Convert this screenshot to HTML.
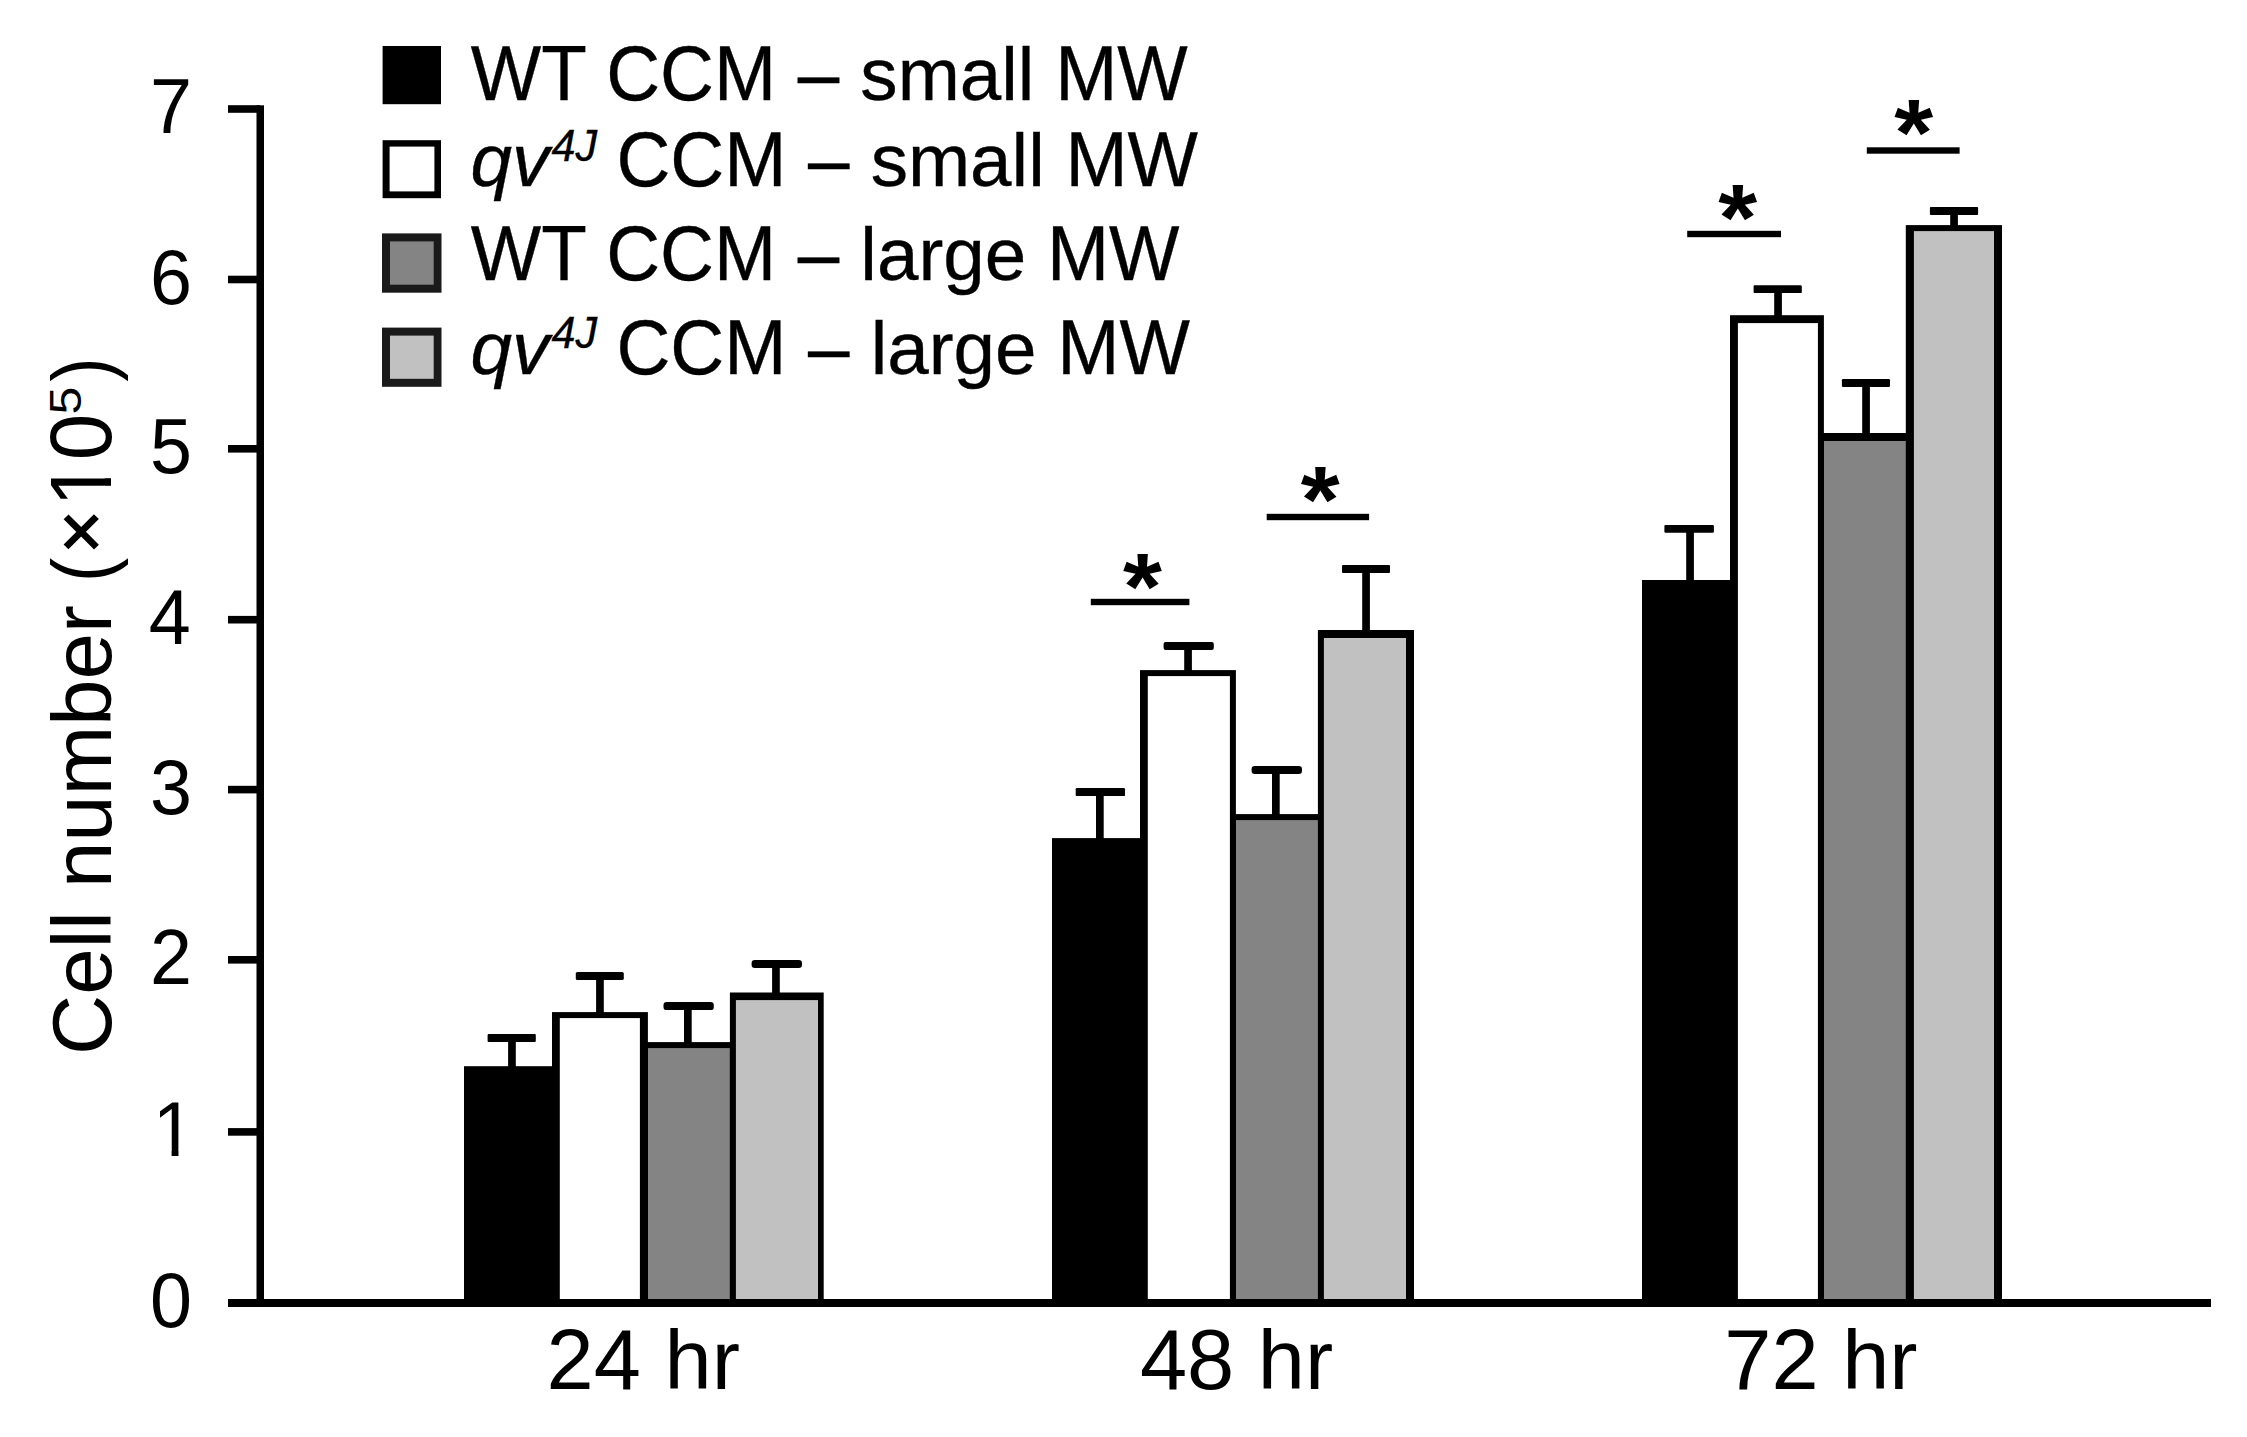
<!DOCTYPE html>
<html lang="en">
<head>
<meta charset="utf-8">
<title>Cell number bar chart</title>
<style>
html,body{margin:0;padding:0;background:#fff;}
body{width:2247px;height:1437px;overflow:hidden;}
svg{display:block;}
text{white-space:pre;}
</style>
</head>
<body>
<svg width="2247" height="1437" viewBox="0 0 2247 1437" shape-rendering="geometricPrecision">
<rect x="0" y="0" width="2247" height="1437" fill="#fff"/>
<rect x="464.0" y="1066.2" width="92.0" height="239.8" fill="#000"/>
<rect x="640.0" y="1042.1" width="96.0" height="263.9" fill="#000"/>
<rect x="647.9" y="1048.1" width="82.0" height="257.9" fill="#848484"/>
<rect x="552.0" y="1012.1" width="95.9" height="293.9" fill="#000"/>
<rect x="559.8" y="1018.1" width="80.1" height="287.9" fill="#fff"/>
<rect x="729.9" y="992.5" width="93.8" height="313.5" fill="#000"/>
<rect x="735.9" y="1000.1" width="82.1" height="305.9" fill="#c1c1c1"/>
<rect x="508.1" y="1035.1" width="7.7" height="32.1" fill="#000"/>
<rect x="487.6" y="1034.1" width="48.2" height="7.8" fill="#000" rx="1.0" ry="1.0"/>
<rect x="596.1" y="973.0" width="7.7" height="40.1" fill="#000"/>
<rect x="575.8" y="972.0" width="48.0" height="8.0" fill="#000" rx="1.6" ry="1.6"/>
<rect x="684.0" y="1003.1" width="7.7" height="40.0" fill="#000"/>
<rect x="663.5" y="1002.1" width="50.3" height="8.0" fill="#000" rx="3.2" ry="3.2"/>
<rect x="772.1" y="961.0" width="7.7" height="32.5" fill="#000"/>
<rect x="751.6" y="960.0" width="50.4" height="8.0" fill="#000" rx="3.2" ry="3.2"/>
<rect x="1052.0" y="838.1" width="92.0" height="467.9" fill="#000"/>
<rect x="1229.9" y="814.1" width="94.1" height="491.9" fill="#000"/>
<rect x="1235.9" y="820.1" width="82.1" height="485.9" fill="#848484"/>
<rect x="1140.0" y="670.1" width="95.9" height="635.9" fill="#000"/>
<rect x="1147.8" y="676.1" width="82.1" height="629.9" fill="#fff"/>
<rect x="1317.9" y="630.0" width="96.1" height="676.0" fill="#000"/>
<rect x="1323.9" y="638.0" width="82.1" height="668.0" fill="#c1c1c1"/>
<rect x="1096.0" y="789.1" width="7.7" height="50.0" fill="#000"/>
<rect x="1075.7" y="788.1" width="49.3" height="8.0" fill="#000" rx="1.2" ry="1.2"/>
<rect x="1184.2" y="643.1" width="7.7" height="28.0" fill="#000"/>
<rect x="1163.6" y="642.1" width="50.2" height="8.0" fill="#000" rx="2.0" ry="2.0"/>
<rect x="1272.0" y="767.0" width="7.7" height="48.1" fill="#000"/>
<rect x="1251.6" y="766.0" width="50.4" height="8.0" fill="#000" rx="3.2" ry="3.2"/>
<rect x="1362.2" y="566.0" width="7.7" height="65.0" fill="#000"/>
<rect x="1342.0" y="565.0" width="48.0" height="8.0" fill="#000" rx="1.0" ry="1.0"/>
<rect x="1642.0" y="580.0" width="92.0" height="726.0" fill="#000"/>
<rect x="1817.9" y="433.0" width="96.1" height="873.0" fill="#000"/>
<rect x="1823.9" y="441.0" width="82.1" height="865.0" fill="#848484"/>
<rect x="1730.0" y="315.2" width="93.9" height="990.8" fill="#000"/>
<rect x="1737.9" y="323.1" width="80.0" height="982.9" fill="#fff"/>
<rect x="1905.8" y="225.1" width="96.2" height="1080.9" fill="#000"/>
<rect x="1913.9" y="231.1" width="80.1" height="1074.9" fill="#c1c1c1"/>
<rect x="1686.2" y="525.9" width="7.7" height="55.1" fill="#000"/>
<rect x="1664.4" y="524.9" width="49.5" height="7.9" fill="#000" rx="1.2" ry="1.2"/>
<rect x="1774.2" y="286.2" width="7.7" height="30.0" fill="#000"/>
<rect x="1753.6" y="285.2" width="48.2" height="7.9" fill="#000" rx="1.2" ry="1.2"/>
<rect x="1862.2" y="380.1" width="7.7" height="53.9" fill="#000"/>
<rect x="1841.9" y="379.1" width="48.1" height="7.9" fill="#000" rx="1.2" ry="1.2"/>
<rect x="1950.2" y="208.1" width="7.7" height="18.0" fill="#000"/>
<rect x="1929.9" y="207.1" width="48.2" height="7.9" fill="#000" rx="1.0" ry="1.0"/>
<rect x="256.5" y="105.3" width="7.5" height="1201.7" fill="#000"/>
<rect x="228.0" y="1299.0" width="1983.0" height="8.0" fill="#000"/>
<rect x="228.0" y="105.2" width="32.0" height="7.6" fill="#000"/>
<rect x="228.0" y="275.7" width="32.0" height="7.6" fill="#000"/>
<rect x="228.0" y="445.0" width="32.0" height="7.6" fill="#000"/>
<rect x="228.0" y="615.9" width="32.0" height="7.6" fill="#000"/>
<rect x="228.0" y="785.8" width="32.0" height="7.6" fill="#000"/>
<rect x="228.0" y="956.0" width="32.0" height="7.6" fill="#000"/>
<rect x="228.0" y="1128.1" width="32.0" height="7.6" fill="#000"/>
<rect x="1090.8" y="598.8" width="98.6" height="6.4" fill="#000"/>
<rect x="1266.7" y="513.8" width="102.4" height="6.4" fill="#000"/>
<rect x="1687.2" y="230.8" width="93.8" height="6.4" fill="#000"/>
<rect x="1866.8" y="147.3" width="92.8" height="6.4" fill="#000"/>
<g font-family='"Liberation Sans", Arial, Helvetica, sans-serif' fill="#000" style="font-kerning:none">
<text transform="translate(1142.40 619.20) scale(1.0000 0.9400)" font-size="100" font-weight="bold" text-anchor="middle">*</text>
<text transform="translate(1320.30 532.20) scale(1.0000 0.9400)" font-size="100" font-weight="bold" text-anchor="middle">*</text>
<text transform="translate(1737.60 250.20) scale(1.0000 0.9400)" font-size="100" font-weight="bold" text-anchor="middle">*</text>
<text transform="translate(1913.60 164.80) scale(1.0000 0.9400)" font-size="100" font-weight="bold" text-anchor="middle">*</text>
<text transform="translate(192.00 133.00) scale(1.0000 1.0200)" font-size="75.5" text-anchor="end">7</text>
<text transform="translate(192.00 303.50) scale(1.0000 1.0200)" font-size="75.5" text-anchor="end">6</text>
<text transform="translate(192.00 472.80) scale(1.0000 1.0200)" font-size="75.5" text-anchor="end">5</text>
<text transform="translate(190.80 643.70) scale(1.0000 1.0200)" font-size="75.5" text-anchor="end">4</text>
<text transform="translate(192.00 813.60) scale(1.0000 1.0200)" font-size="75.5" text-anchor="end">3</text>
<text transform="translate(192.00 983.80) scale(1.0000 1.0200)" font-size="75.5" text-anchor="end">2</text>
<text transform="translate(194.70 1155.90) scale(1.0000 1.0200)" font-size="75.5" text-anchor="end">1</text>
<rect x="156.0" y="1149.5" width="15.6" height="7.6" fill="#fff"/>
<rect x="178.5" y="1149.5" width="14.8" height="7.6" fill="#fff"/>
<text transform="translate(192.00 1327.00) scale(1.0000 1.0200)" font-size="75.5" text-anchor="end">0</text>
<text transform="translate(546.60 1389.30) scale(1.0000 1.0090)" font-size="84.8">24</text>
<text transform="translate(664.48 1389.30) scale(1.0000 0.9800)" font-size="84.8">hr</text>
<text transform="translate(1139.95 1389.30) scale(1.0000 1.0090)" font-size="84.8">48</text>
<text transform="translate(1257.83 1389.30) scale(1.0000 0.9800)" font-size="84.8">hr</text>
<text transform="translate(1724.30 1389.30) scale(1.0000 1.0090)" font-size="84.8">72</text>
<text transform="translate(1842.18 1389.30) scale(1.0000 0.9800)" font-size="84.8">hr</text>
<text transform="translate(110.8 1054.9) rotate(-90) translate(0.00 0.00) scale(1.0000 1.0000)" font-size="83.4">Cell number</text>
<text transform="translate(110.8 1054.9) rotate(-90) translate(472.80 0.00) scale(0.8700 1.0000)" font-size="83.4">(</text>
<text transform="translate(110.8 1054.9) rotate(-90) translate(501.50 -5.20) scale(1.0000 1.0000)" font-size="74" stroke="#000" stroke-width="1.5">×</text>
<text transform="translate(110.8 1054.9) rotate(-90) translate(548.27 0.00) scale(1.0000 1.0400)" font-size="83.4">10</text>
<text transform="translate(110.8 1054.9) rotate(-90) translate(640.50 -29.70) scale(1.0000 0.8800)" font-size="50">5</text>
<text transform="translate(110.8 1054.9) rotate(-90) translate(673.10 0.00) scale(0.8700 1.0000)" font-size="83.4">)</text>
<g transform="translate(110.8 1054.9) rotate(-90) ">
<rect x="551.9" y="-7.1" width="17.2" height="8.3" fill="#fff"/>
<rect x="576.7" y="-7.1" width="16.4" height="8.3" fill="#fff"/>
</g>
<text transform="translate(470.80 100.40) scale(1.0000 1.0520)" font-size="74.6" stroke="#000" stroke-width="0.35">WT</text>
<text transform="translate(606.21 100.40) scale(1.0000 1.0520)" font-size="74.6" stroke="#000" stroke-width="0.35">CCM</text>
<text transform="translate(797.72 100.40) scale(1.0000 1.0520)" font-size="74.6" stroke="#000" stroke-width="0.35">–</text>
<text transform="translate(860.34 100.40) scale(1.0000 1.0000)" font-size="74.6" stroke="#000" stroke-width="0.35">small</text>
<text transform="translate(1055.14 100.40) scale(1.0000 1.0520)" font-size="74.6" stroke="#000" stroke-width="0.35">MW</text>
<text transform="translate(470.50 186.00) scale(1.0000 0.9850)" font-size="74.6" font-style="italic" stroke="#000" stroke-width="0.35">qv</text>
<text transform="translate(551.40 160.50) scale(1.0000 1.0300)" font-size="43.2" font-style="italic" stroke="#000" stroke-width="0.35">4J</text>
<text transform="translate(616.51 186.00) scale(1.0000 1.0520)" font-size="74.6" stroke="#000" stroke-width="0.35">CCM</text>
<text transform="translate(808.02 186.00) scale(1.0000 1.0520)" font-size="74.6" stroke="#000" stroke-width="0.35">–</text>
<text transform="translate(870.64 186.00) scale(1.0000 1.0000)" font-size="74.6" stroke="#000" stroke-width="0.35">small</text>
<text transform="translate(1065.44 186.00) scale(1.0000 1.0520)" font-size="74.6" stroke="#000" stroke-width="0.35">MW</text>
<text transform="translate(470.80 280.20) scale(1.0000 1.0520)" font-size="74.6" stroke="#000" stroke-width="0.35">WT</text>
<text transform="translate(606.21 280.20) scale(1.0000 1.0520)" font-size="74.6" stroke="#000" stroke-width="0.35">CCM</text>
<text transform="translate(797.72 280.20) scale(1.0000 1.0520)" font-size="74.6" stroke="#000" stroke-width="0.35">–</text>
<text transform="translate(860.34 280.20) scale(1.0000 1.0000)" font-size="74.6" stroke="#000" stroke-width="0.35">large</text>
<text transform="translate(1046.95 280.20) scale(1.0000 1.0520)" font-size="74.6" stroke="#000" stroke-width="0.35">MW</text>
<text transform="translate(470.50 373.90) scale(1.0000 0.9850)" font-size="74.6" font-style="italic" stroke="#000" stroke-width="0.35">qv</text>
<text transform="translate(551.40 348.40) scale(1.0000 1.0300)" font-size="43.2" font-style="italic" stroke="#000" stroke-width="0.35">4J</text>
<text transform="translate(616.51 373.90) scale(1.0000 1.0520)" font-size="74.6" stroke="#000" stroke-width="0.35">CCM</text>
<text transform="translate(808.02 373.90) scale(1.0000 1.0520)" font-size="74.6" stroke="#000" stroke-width="0.35">–</text>
<text transform="translate(870.64 373.90) scale(1.0000 1.0000)" font-size="74.6" stroke="#000" stroke-width="0.35">large</text>
<text transform="translate(1057.25 373.90) scale(1.0000 1.0520)" font-size="74.6" stroke="#000" stroke-width="0.35">MW</text>
</g>
<rect x="382.6" y="46.0" width="58.4" height="58.2" fill="#000"/>
<rect x="382.6" y="140.2" width="58.4" height="58.0" fill="#000"/>
<rect x="389.6" y="146.6" width="44.8" height="44.8" fill="#fff"/>
<rect x="382.0" y="233.4" width="59.5" height="59.3" fill="#1a1a1a"/>
<rect x="390.0" y="241.4" width="43.7" height="43.3" fill="#848484"/>
<rect x="382.0" y="327.6" width="59.5" height="59.2" fill="#1a1a1a"/>
<rect x="390.0" y="335.6" width="43.7" height="43.2" fill="#c1c1c1"/>
</svg>
</body>
</html>
